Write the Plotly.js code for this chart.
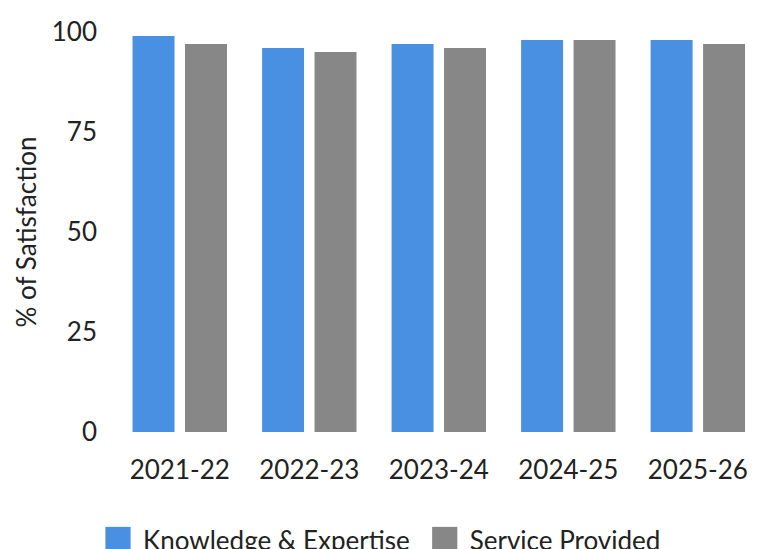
<!DOCTYPE html>
<html>
<head>
<meta charset="utf-8">
<script src="https://cdn.plot.ly/plotly-3.0.1.min.js"></script>
<style>html,body{margin:0;padding:0;background:#fff;}#chart{width:760px;height:549px;}</style>
</head>
<body>
<div id="chart"></div>
<script>
var categories = ["2021-22", "2022-23", "2023-24", "2024-25", "2025-26"];
var knowledge = [99, 96, 97, 98, 98];
var service = [97, 95, 96, 98, 97];
var yTicks = [0, 25, 50, 75, 100];

var data = [
  {type: "bar", name: "Knowledge & Expertise", x: categories, y: knowledge, marker: {color: "#4A90E2"}, hoverinfo: "none"},
  {type: "bar", name: "Service Provided", x: categories, y: service, marker: {color: "#878787"}, hoverinfo: "none"}
];

var layout = {
  width: 760, height: 549,
  margin: {l: 115, r: 0, t: 32, b: 117},
  paper_bgcolor: "#fff", plot_bgcolor: "#fff",
  font: {family: "Lato, sans-serif", size: 26, color: "#222"},
  barmode: "group",
  bargap: 0.19,
  bargroupgap: 0.2,
  showlegend: true,
  legend: {orientation: "h", xref: "container", yref: "container", x: 0.5, xanchor: "center", y: 0.06, yanchor: "top", font: {size: 26, color: "#222"}},
  xaxis: {type: "category", range: [-0.5, 4.48], showgrid: false, zeroline: false, showline: false, ticks: "", ticklabelstandoff: 20, tickfont: {size: 26}},
  yaxis: {range: [0, 100], tickvals: yTicks, showgrid: false, zeroline: false, showline: false, ticks: "", ticklabelstandoff: 17, tickfont: {size: 26},
    title: {text: "% of Satisfaction", font: {size: 26}, standoff: 7}}
};

Plotly.newPlot("chart", data, layout, {staticPlot: true, displayModeBar: false}).then(function (gd) {
  gd.querySelectorAll(".legend [clip-path]").forEach(function (el) { el.removeAttribute("clip-path"); });
  var pts = gd.querySelectorAll(".legend .legendpoints path");
  pts.forEach(function (p) {
    var t = p.getAttribute("transform") || "";
    p.setAttribute("transform", t + " translate(-5,0) scale(2.1)");
  });
  var items = gd.querySelectorAll(".legend .traces");
  items.forEach(function (g, i) {
    var t = g.getAttribute("transform") || "";
    g.setAttribute("transform", t + " translate(" + (i === 0 ? -3 : 12) + ",0)");
  });
});
</script>
</body>
</html>
